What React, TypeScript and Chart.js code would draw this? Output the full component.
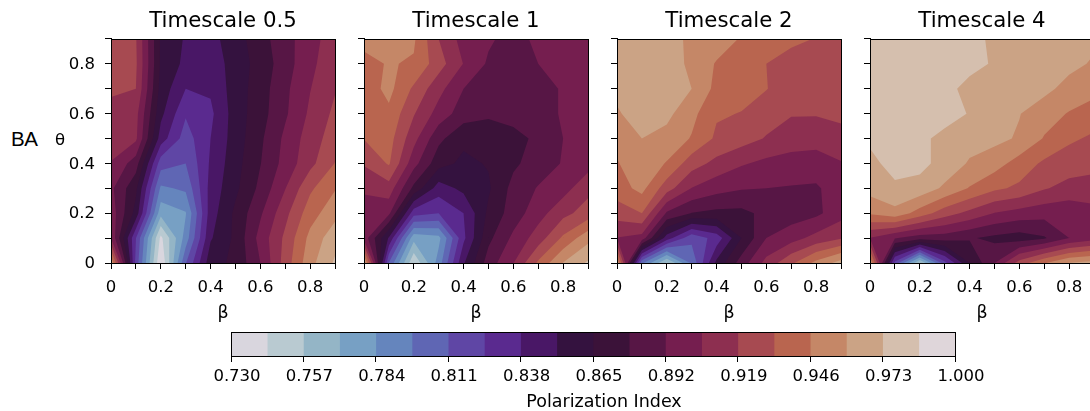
import React, { useEffect, useRef } from "react";
import { Chart, registerables } from "chart.js";
Chart.register(...registerables);

const gridAxis = [0, 0.1, 0.2, 0.3, 0.4, 0.5, 0.6, 0.7, 0.8, 0.9];
const titles = ["Timescale 0.5", "Timescale 1", "Timescale 2", "Timescale 4"];
const levels = [0.73, 0.7435, 0.757, 0.7705, 0.784, 0.7975, 0.811, 0.8245, 0.838, 0.8515, 0.865, 0.8785, 0.892, 0.9055, 0.919, 0.9325, 0.946, 0.9595, 0.973, 0.9865, 1.0];
const bandColors = ["#d9d6de", "#b9cad1", "#94b5c6", "#77a0c4", "#6585bd", "#5f66b4", "#5f46a5", "#5a2a8f", "#491766", "#34123f", "#3b1239", "#571645", "#751e4f", "#8d2f50", "#a74a51", "#b9654f", "#c58767", "#cba385", "#d5bfae", "#dfd6da"];
const colorbarTicks = [0.73, 0.757, 0.784, 0.811, 0.838, 0.865, 0.892, 0.919, 0.946, 0.973, 1.0];

// rows: theta = 0 .. 0.9, columns: beta = 0 .. 0.9
const timescale05 = [
  [0.96, 0.82, 0.73, 0.81, 0.86, 0.868, 0.892, 0.925, 0.955, 0.975],
  [0.905, 0.825, 0.74, 0.79, 0.85, 0.868, 0.897, 0.922, 0.95, 0.968],
  [0.9, 0.86, 0.775, 0.783, 0.845, 0.868, 0.89, 0.915, 0.94, 0.955],
  [0.895, 0.868, 0.795, 0.8, 0.843, 0.862, 0.882, 0.905, 0.93, 0.945],
  [0.905, 0.885, 0.817, 0.811, 0.84, 0.86, 0.878, 0.897, 0.915, 0.933],
  [0.91, 0.908, 0.845, 0.818, 0.838, 0.858, 0.876, 0.895, 0.912, 0.926],
  [0.913, 0.91, 0.855, 0.826, 0.835, 0.858, 0.873, 0.89, 0.908, 0.922],
  [0.922, 0.919, 0.86, 0.838, 0.84, 0.858, 0.872, 0.889, 0.905, 0.918],
  [0.93, 0.921, 0.863, 0.848, 0.843, 0.858, 0.87, 0.886, 0.902, 0.915],
  [0.93, 0.92, 0.863, 0.85, 0.847, 0.859, 0.873, 0.887, 0.9, 0.913],
];
const timescale1 = [
  [0.965, 0.81, 0.745, 0.79, 0.85, 0.885, 0.905, 0.935, 0.96, 0.975],
  [0.9, 0.85, 0.775, 0.78, 0.835, 0.875, 0.895, 0.912, 0.935, 0.955],
  [0.892, 0.895, 0.83, 0.8245, 0.838, 0.868, 0.885, 0.9, 0.915, 0.925],
  [0.91, 0.913, 0.875, 0.845, 0.855, 0.863, 0.883, 0.893, 0.9, 0.915],
  [0.92, 0.934, 0.897, 0.87, 0.862, 0.866, 0.876, 0.885, 0.893, 0.9],
  [0.933, 0.938, 0.91, 0.882, 0.868, 0.866, 0.873, 0.882, 0.892, 0.897],
  [0.938, 0.943, 0.92, 0.9, 0.885, 0.882, 0.885, 0.888, 0.893, 0.897],
  [0.938, 0.95, 0.93, 0.91, 0.892, 0.885, 0.885, 0.888, 0.893, 0.898],
  [0.942, 0.947, 0.9445, 0.925, 0.905, 0.89, 0.885, 0.892, 0.897, 0.9],
  [0.95, 0.952, 0.948, 0.919, 0.9, 0.894, 0.887, 0.895, 0.897, 0.9],
];
const timescale2 = [
  [0.96, 0.8, 0.755, 0.8, 0.855, 0.885, 0.91, 0.93, 0.95, 0.965],
  [0.905, 0.9, 0.845, 0.815, 0.83, 0.865, 0.892, 0.9, 0.91, 0.918],
  [0.925, 0.9325, 0.89, 0.878, 0.875, 0.875, 0.882, 0.885, 0.889, 0.9],
  [0.94, 0.95, 0.925, 0.905, 0.897, 0.893, 0.892, 0.891, 0.89, 0.9],
  [0.945, 0.955, 0.945, 0.925, 0.915, 0.907, 0.902, 0.9, 0.9, 0.905],
  [0.95, 0.9595, 0.955, 0.945, 0.93, 0.925, 0.918, 0.912, 0.91, 0.91],
  [0.957, 0.97, 0.963, 0.95, 0.934, 0.932, 0.925, 0.92, 0.92, 0.925],
  [0.965, 0.972, 0.968, 0.9595, 0.942, 0.937, 0.933, 0.925, 0.925, 0.928],
  [0.965, 0.972, 0.97, 0.955, 0.945, 0.945, 0.9325, 0.928, 0.927, 0.93],
  [0.965, 0.972, 0.968, 0.955, 0.952, 0.945, 0.94, 0.935, 0.932, 0.932],
];
const timescale4 = [
  [0.96, 0.82, 0.755, 0.82, 0.865, 0.892, 0.925, 0.945, 0.96, 0.965],
  [0.905, 0.893, 0.885, 0.885, 0.88, 0.875, 0.872, 0.877, 0.892, 0.9],
  [0.948, 0.955, 0.94, 0.925, 0.915, 0.905, 0.9, 0.897, 0.895, 0.9],
  [0.965, 0.971, 0.968, 0.957, 0.945, 0.935, 0.93, 0.92, 0.915, 0.915],
  [0.97, 0.977, 0.977, 0.968, 0.958, 0.952, 0.94, 0.93, 0.925, 0.922],
  [0.975, 0.98, 0.977, 0.968, 0.965, 0.963, 0.958, 0.945, 0.935, 0.93],
  [0.98, 0.983, 0.98, 0.98, 0.972, 0.97, 0.96, 0.952, 0.945, 0.94],
  [0.982, 0.985, 0.982, 0.976, 0.97, 0.969, 0.965, 0.963, 0.955, 0.95],
  [0.983, 0.985, 0.983, 0.978, 0.976, 0.972, 0.968, 0.965, 0.963, 0.958],
  [0.983, 0.985, 0.983, 0.978, 0.978, 0.97, 0.968, 0.966, 0.964, 0.962],
];
const panelGrids = [timescale05, timescale1, timescale2, timescale4];

const FONT = "'DejaVu Sans'";
const TXT = "#000";
const panelLeft = [111, 364, 617, 870];
const M = 60, AREA = 224, TOP = 39, XH = 61;

const contourPlugin = {
  id: "contourBands",
  beforeDatasetsDraw(chart: any) {
    const { ctx, chartArea: a, scales } = chart;
    const pts = chart.data.datasets[0].data;
    const n = gridAxis.length;
    const at = (i: number, j: number) => pts[j * n + i];
    const px = (p: any) => [scales.x.getPixelForValue(p.x), scales.y.getPixelForValue(p.y)];
    ctx.save();
    ctx.beginPath();
    ctx.rect(a.left, a.top, a.right - a.left, a.bottom - a.top);
    ctx.clip();
    bandColors.forEach((color, k) => {
      const L = levels[k];
      ctx.beginPath();
      for (let j = 0; j < n - 1; j++) {
        for (let i = 0; i < n - 1; i++) {
          const q = [at(i, j), at(i + 1, j), at(i + 1, j + 1), at(i, j + 1)];
          const poly: number[][] = [];
          for (let e = 0; e < 4; e++) {
            const p0 = q[e], p1 = q[(e + 1) % 4];
            const in0 = k === 0 || p0.v >= L, in1 = k === 0 || p1.v >= L;
            if (in0) poly.push(px(p0));
            if (in0 !== in1) {
              const t = (L - p0.v) / (p1.v - p0.v);
              poly.push(px({ x: p0.x + t * (p1.x - p0.x), y: p0.y + t * (p1.y - p0.y) }));
            }
          }
          if (poly.length > 2) {
            ctx.moveTo(poly[0][0], poly[0][1]);
            for (let m = 1; m < poly.length; m++) ctx.lineTo(poly[m][0], poly[m][1]);
            ctx.closePath();
          }
        }
      }
      ctx.fillStyle = color;
      ctx.fill("nonzero");
    });
    ctx.restore();
  },
};

const framePlugin = {
  id: "frame",
  afterDraw(chart: any) {
    const { ctx, chartArea: a } = chart;
    ctx.save();
    ctx.strokeStyle = TXT;
    ctx.lineWidth = 1;
    ctx.strokeRect(Math.round(a.left) + 0.5, Math.round(a.top) + 0.5, Math.round(a.right - a.left), Math.round(a.bottom - a.top));
    ctx.restore();
  },
};

function panelConfig(idx: number): any {
  const grid = panelGrids[idx];
  const pts: any[] = [];
  grid.forEach((row, j) => row.forEach((v, i) => pts.push({ x: gridAxis[i], y: gridAxis[j], v })));
  const fmt = (val: number) => {
    const t = Math.round(val * 10);
    return t % 2 ? "" : t === 0 ? "0" : val.toFixed(1);
  };
  const setTicks = (s: any) => { s.ticks = gridAxis.map((value) => ({ value })); };
  const tickFont = { family: FONT, size: 16.5 };
  return {
    type: "scatter",
    data: { datasets: [{ data: pts, pointRadius: 0, showLine: false }] },
    plugins: [contourPlugin, framePlugin],
    options: {
      animation: false,
      responsive: false,
      layout: { padding: { left: 0, right: M, top: 0, bottom: 0 } },
      plugins: {
        legend: { display: false },
        tooltip: { enabled: false },
        title: {
          display: true,
          fullSize: false,
          text: titles[idx],
          color: TXT,
          font: { family: FONT, size: 21.3, weight: "normal" },
          padding: { top: 8.2, bottom: 5.2 },
        },
      },
      scales: {
        x: {
          type: "linear",
          min: 0,
          max: 0.9,
          afterBuildTicks: setTicks,
          afterFit: (s: any) => { s.height = XH; },
          grid: { drawOnChartArea: false, drawTicks: true, tickLength: 6, color: TXT },
          border: { display: true, color: TXT },
          ticks: { autoSkip: false, maxRotation: 0, minRotation: 0, color: TXT, font: tickFont, padding: 9, callback: fmt },
          title: { display: true, text: "β", color: TXT, font: { family: FONT, size: 17.5 }, padding: 0 },
        },
        y: {
          type: "linear",
          min: 0,
          max: 0.9,
          afterBuildTicks: setTicks,
          afterFit: (s: any) => { s.width = M; },
          grid: { drawOnChartArea: false, drawTicks: true, tickLength: 6, color: TXT },
          border: { display: true, color: TXT },
          ticks: { autoSkip: false, color: TXT, font: tickFont, padding: 10, labelOffset: 1, callback: (v: number) => (idx === 0 ? fmt(v) : "") },
        },
      },
    },
  };
}

function colorbarConfig(): any {
  return {
    type: "bar",
    data: {
      labels: ["Polarization Index"],
      datasets: bandColors.map((c, k) => ({
        data: [[levels[0], levels[k + 1]]],
        backgroundColor: c,
        borderWidth: 0,
        grouped: false,
        barPercentage: 1,
        categoryPercentage: 1,
      })),
    },
    plugins: [framePlugin],
    options: {
      indexAxis: "y",
      animation: false,
      responsive: false,
      layout: { padding: { left: 40, right: 40, top: 12, bottom: 0 } },
      plugins: { legend: { display: false }, tooltip: { enabled: false } },
      scales: {
        y: { display: false, grid: { display: false } },
        x: {
          type: "linear",
          min: 0.73,
          max: 1.0,
          afterBuildTicks: (s: any) => { s.ticks = colorbarTicks.map((value) => ({ value })); },
          afterFit: (s: any) => { s.height = 55; },
          grid: { drawOnChartArea: false, drawTicks: true, tickLength: 6, color: TXT },
          border: { display: true, color: TXT },
          ticks: { autoSkip: false, maxRotation: 0, minRotation: 0, color: TXT, font: { family: FONT, size: 16.5 }, padding: 5, labelOffset: 6, callback: (v: number) => v.toFixed(3) },
        },
      },
    },
  };
}

function ChartCanvas({ config, left, top, width, height }: any) {
  const ref = useRef<HTMLCanvasElement>(null);
  useEffect(() => {
    const chart = new Chart(ref.current as HTMLCanvasElement, config());
    return () => chart.destroy();
  }, []);
  return <canvas ref={ref} width={width} height={height} style={{ position: "absolute", left, top, width, height }} />;
}

export default function App() {
  return (
    <div style={{ position: "fixed", left: 0, top: 0, width: 1090, height: 411, overflow: "hidden", background: "#fff", filter: "blur(0.45px)" }}>
      {panelLeft.map((x, i) => (
        <ChartCanvas key={i} config={() => panelConfig(i)} left={x - M} top={0} width={AREA + 2 * M} height={TOP + AREA + XH} />
      ))}
      <ChartCanvas config={colorbarConfig} left={191} top={320} width={804} height={91} />
      <div style={{ position: "absolute", left: 504, width: 200, textAlign: "center", top: 390, fontFamily: FONT, fontSize: 17.5, lineHeight: "22px", color: TXT }}>Polarization Index</div>
      <div style={{ position: "absolute", left: 11, top: 127, fontFamily: "'Liberation Sans'", fontSize: 20.5, lineHeight: "24px", letterSpacing: "-0.5px", color: TXT }}>BA</div>
      <div style={{ position: "absolute", left: 55, top: 130, fontFamily: FONT, fontSize: 16.5, lineHeight: "20px", color: TXT }}>θ</div>
    </div>
  );
}
